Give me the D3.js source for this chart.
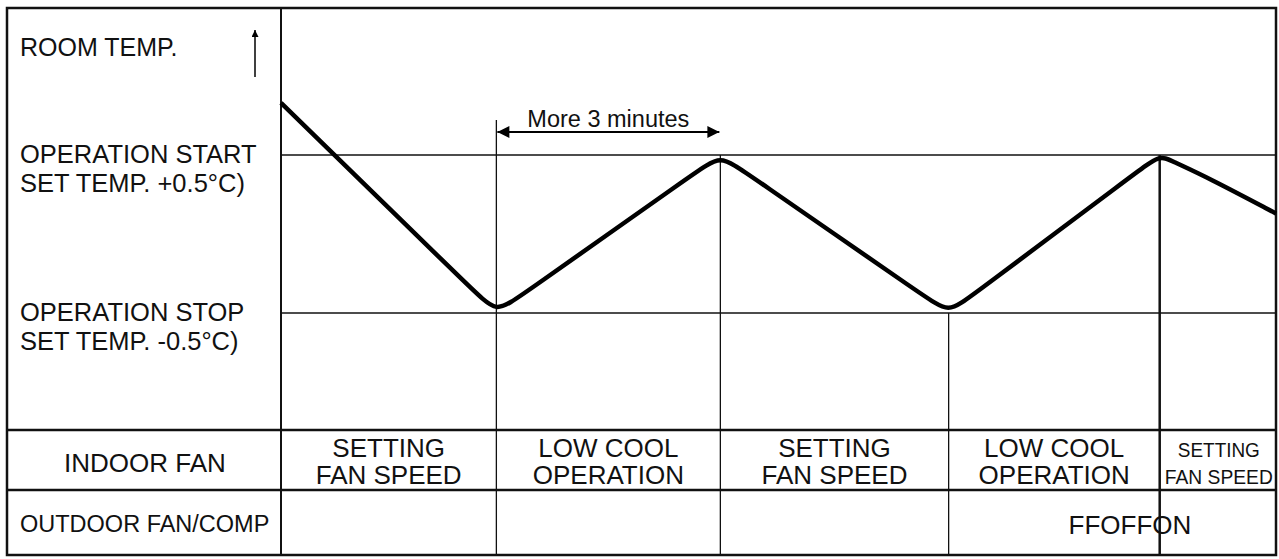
<!DOCTYPE html>
<html><head><meta charset="utf-8">
<script src="https://cdn.jsdelivr.net/npm/d3@7"></script>
<style>body{margin:0;background:#fff}text{font-family:"Liberation Sans",Arial,sans-serif;fill:#111}</style>
</head><body><svg id="c" width="1279" height="559"></svg>
<script>
// data
const boundaries = [0, 5.0, 10.2, 15.5, 20.4, 23.1];
const curveT = [0, 0.5, 4.5, 5.0, 5.52, 9.68, 10.2, 10.73, 14.97, 15.5, 15.99, 19.91, 20.4, 20.67, 21.5, 23.1];
const curveV = [1.33, 1.197, 0.133, 0, 0.1, 0.9, 1, 0.9, 0.1, 0, 0.1, 0.9, 1, 0.963, 0.86, 0.63];
const indoorLabels = [["SETTING","FAN SPEED"],["LOW COOL","OPERATION"],["SETTING","FAN SPEED"],["LOW COOL","OPERATION"],["SETTING","FAN SPEED"]];
const levelLabels = [["OPERATION START","SET TEMP. +0.5\u00b0C)"],["OPERATION STOP","SET TEMP. -0.5\u00b0C)"]];
const levels = [1, 0];

const svg = d3.select("#c");
const x = d3.scaleLinear().domain([0, 23.1]).range([281, 1276]);
const y = d3.scaleLinear().domain([0, 1]).range([313, 155]);
const L = 7, R = 1276, T = 8, B = 555, r1 = 430, r2 = 490;
const ln = (x1,y1,x2,y2,w=1.5)=>svg.append("line").attr("x1",x1).attr("y1",y1).attr("x2",x2).attr("y2",y2).attr("stroke","#111").attr("stroke-width",w);

svg.append("rect").attr("x",L).attr("y",T).attr("width",R-L).attr("height",B-T).attr("fill","none").attr("stroke","#111").attr("stroke-width",2.5);
ln(281,T,281,B,2);
ln(L,r1,R,r1,2.5); ln(L,r2,R,r2,2.5);
levels.forEach(v=>ln(281,y(v),R,y(v),1.3));
ln(x(boundaries[1]),120,x(boundaries[1]),B,1.3);
ln(x(boundaries[2]),y(1),x(boundaries[2]),B,1.3);
ln(x(boundaries[3]),y(0),x(boundaries[3]),B,1.3);
ln(x(boundaries[4]),y(1),x(boundaries[4]),B,2.5);

svg.append("path").datum(curveT.map((t,i)=>[t,curveV[i]]))
 .attr("d",d3.line().x(d=>x(d[0])).y(d=>y(d[1])).curve(d3.curveBasis))
 .attr("fill","none").attr("stroke","#000").attr("stroke-width",4.5);

const defs = svg.append("defs");
defs.append("marker").attr("id","ah").attr("viewBox","0 0 10 10").attr("refX",10).attr("refY",5)
 .attr("markerWidth",26).attr("markerHeight",12).attr("markerUnits","userSpaceOnUse").attr("orient","auto-start-reverse")
 .append("path").attr("d","M0,0L10,5L0,10z").attr("fill","#000");
defs.append("marker").attr("id","ah2").attr("viewBox","0 0 10 10").attr("refX",10).attr("refY",5)
 .attr("markerWidth",14).attr("markerHeight",7).attr("markerUnits","userSpaceOnUse").attr("orient","auto")
 .append("path").attr("d","M0,0L10,5L0,10z").attr("fill","#000");
const ax1 = x(boundaries[1]), ax2 = x(boundaries[2]);
svg.append("line").attr("x1",ax1+1).attr("x2",ax2-1).attr("y1",132).attr("y2",132).attr("stroke","#000").attr("stroke-width",2)
 .attr("marker-start","url(#ah)").attr("marker-end","url(#ah)");
svg.append("text").attr("x",(ax1+ax2)/2).attr("y",127).attr("text-anchor","middle").attr("font-size",23).attr("textLength",162).attr("lengthAdjust","spacingAndGlyphs").text("More 3 minutes");

svg.append("text").attr("x",20).attr("y",56).attr("font-size",25).text("ROOM TEMP.");
svg.append("line").attr("x1",255).attr("x2",255).attr("y1",77).attr("y2",30).attr("stroke","#000").attr("stroke-width",1.5).attr("marker-end","url(#ah2)");
levels.forEach((v,i)=>{
  const t = svg.append("text").attr("x",20).attr("y",y(v)+8).attr("font-size",25.5);
  t.append("tspan").attr("x",20).text(levelLabels[i][0]);
  t.append("tspan").attr("x",20).attr("dy",29).text(levelLabels[i][1]);
});
svg.append("text").attr("x",145).attr("y",472).attr("text-anchor","middle").attr("font-size",26).text("INDOOR FAN");
svg.append("text").attr("x",20).attr("y",532).attr("font-size",23.5).text("OUTDOOR FAN/COMP");

indoorLabels.forEach((lab,i)=>{
  const cx = (x(boundaries[i])+x(boundaries[i+1]))/2;
  const last = i===4;
  const fs = last?21:26;
  lab.forEach((s,j)=>{
    const t = svg.append("text").attr("x",cx+(last?1:0)).attr("y",457+j*27).attr("text-anchor","middle").attr("font-size",fs).text(s);
    if(last) t.attr("textLength", j===0?82:108).attr("lengthAdjust","spacingAndGlyphs");
  });
});
svg.append("text").attr("x",1130).attr("y",534).attr("text-anchor","middle").attr("font-size",26).text("FFOFFON");
</script></body></html>
